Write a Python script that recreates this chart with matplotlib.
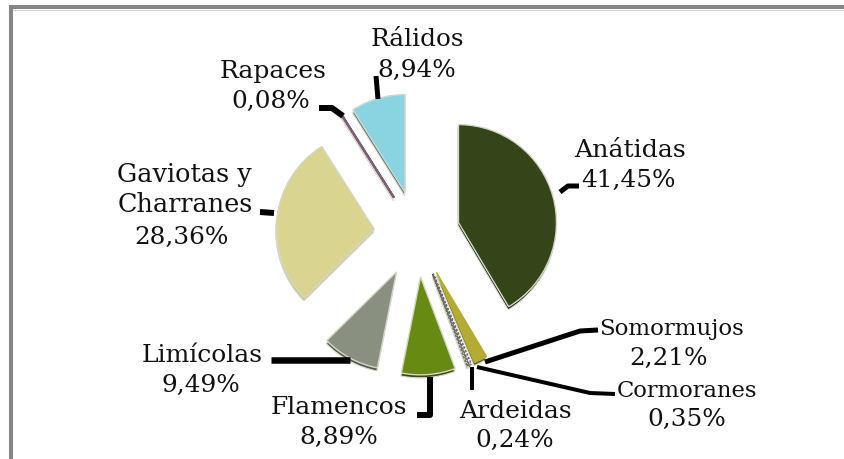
import matplotlib
matplotlib.use("Agg")
import matplotlib.pyplot as plt
from matplotlib.patches import Wedge

categories = ["Anátidas", "Somormujos", "Cormoranes", "Ardeidas", "Flamencos",
              "Limícolas", "Gaviotas y\nCharranes", "Rapaces", "Rálidos"]
values = [41.45, 2.21, 0.35, 0.24, 8.89, 9.49, 28.36, 0.08, 8.94]
value_labels = ["41,45%", "2,21%", "0,35%", "0,24%", "8,89%", "9,49%", "28,36%", "0,08%", "8,94%"]
colors = ["#35451A", "#B3AB34", "#F6EEF4", "#F2F0E8", "#668A12", "#8A9080", "#D9D48F", "#7C5F78", "#8AD3E0"]
side_colors = ["#111A05", "#5E5A18", "#6A6A60", "#6A6A60", "#3A4F0A", "#555A4C", "#C9C480", "#5A4458", "#3F6A74"]

W, H = 845, 460
fig = plt.figure(figsize=(W / 100, H / 100), dpi=100)
ax = fig.add_axes([0, 0, 1, 1])
R = 98
wedges, _ = ax.pie(values, explode=[43] * len(values), radius=R, center=(417, H - 235),
                   startangle=90, counterclock=False, colors=colors, frame=True,
                   wedgeprops={"edgecolor": "#D4D7C8", "linewidth": 1.0, "zorder": 3})
ax.set_xlim(0, W)
ax.set_ylim(0, H)
ax.set_aspect("auto")
ax.axis("off")

for w, side in zip(wedges, side_colors):
    cx, cy = w.center
    ax.add_patch(Wedge((cx - 0.5, cy - 3), w.r, w.theta1, w.theta2, facecolor=side,
                       edgecolor="#D8DACB", linewidth=0.8, zorder=2))

# Thin slices are widened by a coloured or dashed outline
wedges[7].set_edgecolor(colors[7])
wedges[7].set_linewidth(1.6)
wedges[1].set_edgecolor(colors[1])
for i in (2, 3):
    wedges[i].set_edgecolor("#6A6A60")
    wedges[i].set_linewidth(1.1)
    wedges[i].set_linestyle((0, (1.5, 1)))


def px(points):
    return [p[0] for p in points], [H - p[1] for p in points]


leaders = [
    [(560, 193), (568, 187), (579, 187)],
    [(485, 363), (580, 332), (598, 331)],
    [(477, 368), (590, 394), (615, 395)],
    [(472, 368), (472, 391)],
    [(430, 378), (430, 416), (417, 416)],
    [(350, 361), (271, 361)],
    [(274, 214), (260, 213)],
    [(343, 117), (332, 109), (319, 109)],
    [(378, 100), (376, 77)],
]
widths = [5, 5, 4, 4, 6, 6.5, 6, 6, 5]
for pts, lw in zip(leaders, widths):
    xs, ys = px(pts)
    ax.plot(xs, ys, color="black", lw=lw * 0.72, solid_joinstyle="round", solid_capstyle="butt", zorder=4)

name_anchors = [[(630, 157)], [(672, 335)], [(687, 397)], [(515, 418)], [(339, 414)], [(202, 362)],
                [(184, 182), (185, 212)], [(273, 78)], [(417, 46)]]
value_anchors = [(629, 187), (669, 365), (687, 426), (515, 447), (339, 444), (201, 392),
                 (182, 244), (271, 108), (417, 77)]
name_sizes = [18.2, 16.5, 16.3, 18, 18, 18, 18.4, 18, 17.8]
value_size = 17.8
font = "DejaVu Serif"
for name, val, n_pos, v_pos, fs in zip(categories, value_labels, name_anchors, value_anchors, name_sizes):
    for line, (x, y) in zip(name.split("\n"), n_pos):
        ax.text(x, H - y, line, ha="center", va="baseline", family=font, fontsize=fs, color="#111111", zorder=5)
    ax.text(v_pos[0], H - v_pos[1], val, ha="center", va="baseline", family=font, fontsize=value_size,
            color="#111111", zorder=5)

frame_color = "#868686"
ax.plot([11, 11], [0, H - 6], color=frame_color, lw=2.9, solid_capstyle="butt")
ax.plot([9, W], [H - 8, H - 8], color=frame_color, lw=2.9, solid_capstyle="butt")
ax.plot([13, W], [H - 10.5, H - 10.5], color="#D4D4D4", lw=0.7, solid_capstyle="butt")

fig.savefig("out.png", dpi=100, facecolor="white")
